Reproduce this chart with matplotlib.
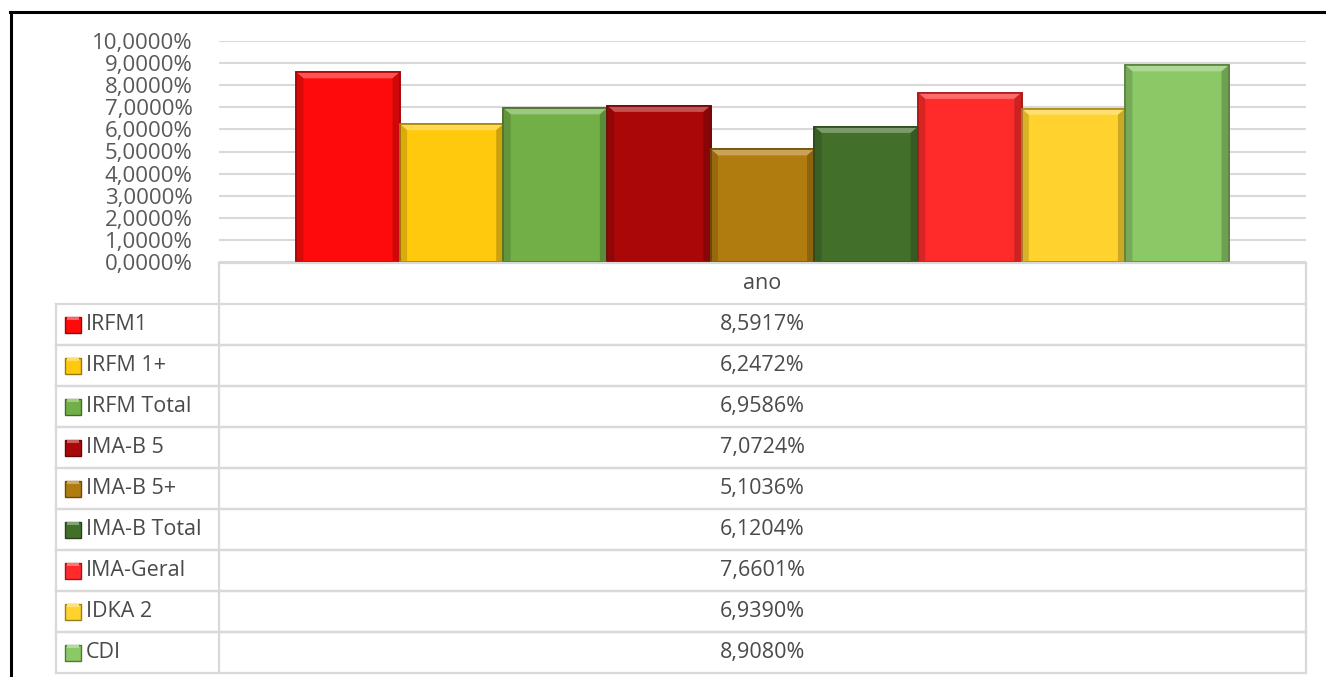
import matplotlib.pyplot as plt
from matplotlib.patches import Rectangle, Polygon
from matplotlib.lines import Line2D
import matplotlib.colors as mcolors

plt.rcParams['font.family'] = ['Open Sans', 'DejaVu Sans']

series = ["IRFM1", "IRFM 1+", "IRFM Total", "IMA-B 5", "IMA-B 5+",
          "IMA-B Total", "IMA-Geral", "IDKA 2", "CDI"]
values = [8.5917, 6.2472, 6.9586, 7.0724, 5.1036, 6.1204, 7.6601, 6.9390, 8.9080]
category = "ano"
colors = ["#FF0A0A", "#FFC90E", "#72B047", "#AA0808", "#B07C10",
          "#42702A", "#FF2A2A", "#FFD22E", "#8BC866"]
yticks = [0, 1, 2, 3, 4, 5, 6, 7, 8, 9, 10]

W, H = 1326, 677
fig = plt.figure(figsize=(W / 100, H / 100), dpi=100)

text_color = "#595959"
grid_color = "#D9D9D9"


def shade(c, f):
    r, g, b = mcolors.to_rgb(c)
    if f < 1:
        return (r * f, g * f, b * f)
    return (r + (1 - r) * (f - 1), g + (1 - g) * (f - 1), b + (1 - b) * (f - 1))


# chart area
x0, x1, ytop, ybot = 219, 1306, 41, 262
ax = fig.add_axes([x0 / W, 1 - ybot / H, (x1 - x0) / W, (ybot - ytop) / H])
ax.set_ylim(0, 10)
ax.set_xlim(-1.245, len(values) - 1 + 1.245)
for spine in ax.spines.values():
    spine.set_visible(False)
ax.set_yticks(yticks)
ax.set_yticklabels([f"{t:.4f}%".replace(".", ",") for t in yticks])
ax.tick_params(axis="y", length=0, pad=19, labelsize=16, labelcolor=text_color)
ax.set_xticks([])
ax.grid(axis="y", color=grid_color, linewidth=1.5)
ax.set_axisbelow(True)

bars = ax.bar(range(len(values)), values, width=1.0, color=colors,
              edgecolor=[shade(c, 0.7) for c in colors], linewidth=1.2, zorder=2)

# bevel: lighter strip along the top, darker strip along the sides
bev_x = 0.07
bev_y = 0.28
for b, c in zip(bars, colors):
    bx, bw, bh = b.get_x(), b.get_width(), b.get_height()
    ax.add_patch(Polygon([(bx, bh), (bx + bw, bh), (bx + bw - bev_x, bh - bev_y),
                          (bx + bev_x, bh - bev_y)], closed=True,
                         facecolor=shade(c, 1.3), edgecolor="none", zorder=3))
    ax.add_patch(Polygon([(bx, 0), (bx, bh), (bx + bev_x, bh - bev_y), (bx + bev_x, 0)],
                         closed=True, facecolor=shade(c, 0.85), edgecolor="none", zorder=3))
    ax.add_patch(Polygon([(bx + bw, 0), (bx + bw, bh), (bx + bw - bev_x, bh - bev_y),
                          (bx + bw - bev_x, 0)], closed=True,
                         facecolor=shade(c, 0.8), edgecolor="none", zorder=3))
    ax.add_patch(Rectangle((bx, 0), bw, bh, facecolor="none",
                           edgecolor=shade(c, 0.65), linewidth=1.2, zorder=4))

# data table drawn in pixel coordinates
tab = fig.add_axes([0, 0, 1, 1])
tab.set_xlim(0, W)
tab.set_ylim(H, 0)
tab.axis("off")

tx0, tx_mid, tx1 = 56, 219, 1306
head_top, row_h = 263, 41.0
tcol = "#4A4A4A"
tsize = 15.5
lw = 1.6

# header row
tab.add_line(Line2D([tx_mid, tx1], [head_top, head_top], color=grid_color, lw=lw))
tab.add_line(Line2D([tx_mid, tx_mid], [head_top, head_top + row_h], color=grid_color, lw=lw))
tab.add_line(Line2D([tx1, tx1], [head_top, head_top + row_h], color=grid_color, lw=lw))
tab.text((tx_mid + tx1) / 2, head_top + row_h / 2, category, ha="center", va="center",
         fontsize=tsize, color=tcol)

for i, (name, v, c) in enumerate(zip(series, values, colors)):
    top = head_top + row_h * (i + 1)
    bot = top + row_h
    tab.add_line(Line2D([tx0, tx1], [top, top], color=grid_color, lw=lw))
    tab.add_line(Line2D([tx0, tx1], [bot, bot], color=grid_color, lw=lw))
    for xv in (tx0, tx_mid, tx1):
        tab.add_line(Line2D([xv, xv], [top, bot], color=grid_color, lw=lw))
    cy = (top + bot) / 2
    tab.add_patch(Rectangle((65, cy - 8), 16, 16, facecolor=c,
                            edgecolor=shade(c, 0.6), linewidth=1.0))
    tab.add_patch(Rectangle((67, cy - 8), 12, 3, facecolor=shade(c, 1.35),
                            edgecolor="none"))
    tab.text(86, cy, name, ha="left", va="center", fontsize=tsize, color=tcol)
    tab.text((tx_mid + tx1) / 2, cy, f"{v:.4f}%".replace(".", ","), ha="center",
             va="center", fontsize=tsize, color=tcol)

# outer frame lines
tab.add_line(Line2D([10, W], [12, 12], color="black", lw=2.2))
tab.add_line(Line2D([11, 11], [12, H], color="black", lw=2.2))

fig.savefig("out.png", dpi=100, facecolor="white")
